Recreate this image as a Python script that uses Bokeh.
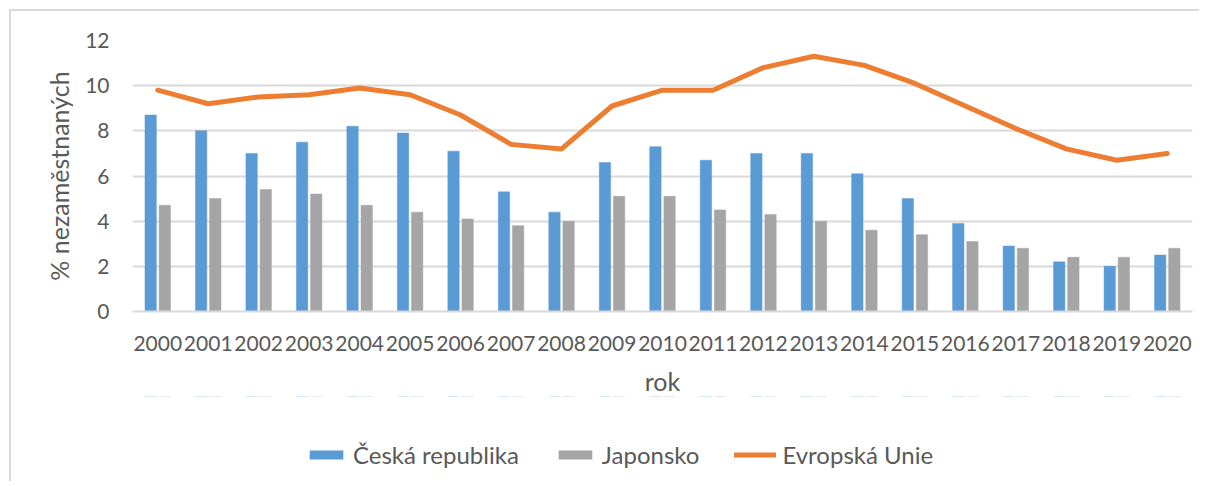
from bokeh.plotting import figure
from bokeh.layouts import column
from bokeh.models import ColumnDataSource, Range1d, FactorRange, Legend, LegendItem, FixedTicker
from bokeh.transform import dodge
from bokeh.embed import file_html
from bokeh.resources import INLINE

years = [str(y) for y in range(2000, 2021)]
cz = [8.7, 8.0, 7.0, 7.5, 8.2, 7.9, 7.1, 5.3, 4.4, 6.6, 7.3, 6.7, 7.0, 7.0, 6.1, 5.0, 3.9, 2.9, 2.2, 2.0, 2.5]
jp = [4.7, 5.0, 5.4, 5.2, 4.7, 4.4, 4.1, 3.8, 4.0, 5.1, 5.1, 4.5, 4.3, 4.0, 3.6, 3.4, 3.1, 2.8, 2.4, 2.4, 2.8]
eu = [9.8, 9.2, 9.5, 9.6, 9.9, 9.6, 8.7, 7.4, 7.2, 9.1, 9.8, 9.8, 10.8, 11.3, 10.9, 10.1, 9.1, 8.1, 7.2, 6.7, 7.0]
series_names = ["Česká republika", "Japonsko", "Evropská Unie"]

y_ticks = [0, 2, 4, 6, 8, 10, 12]

FONT = "Lato"
TXT = "#595959"
GRID = "#D9D9D9"
C_CZ, C_JP, C_EU = "#5B9BD5", "#A5A5A5", "#ED7D31"

src = ColumnDataSource(dict(year=years, cz=cz, jp=jp, eu=eu))


def draw_series(fig, bar_outline=True):
    lc1 = C_CZ if bar_outline else None
    lc2 = C_JP if bar_outline else None
    r1 = fig.vbar(x=dodge("year", -0.14, range=fig.x_range), top="cz", width=0.225, source=src,
                  fill_color=C_CZ, line_color=lc1, line_width=0.5)
    r2 = fig.vbar(x=dodge("year", 0.14, range=fig.x_range), top="jp", width=0.225, source=src,
                  fill_color=C_JP, line_color=lc2, line_width=0.5)
    r3 = fig.line(x="year", y="eu", source=src, line_color=C_EU, line_width=5,
                  line_cap="round", line_join="round")
    return r1, r2, r3


p = figure(x_range=FactorRange(*years), y_range=Range1d(0, 12),
           width=1190, height=387, output_backend="svg", toolbar_location=None,
           min_border_left=121, min_border_right=9, min_border_top=29, min_border_bottom=60)
p.x_range.range_padding = 0
p.outline_line_color = None
draw_series(p)

p.yaxis.ticker = FixedTicker(ticks=y_ticks)
p.ygrid.grid_line_color = GRID
p.ygrid.grid_line_width = 2
p.xgrid.grid_line_color = None

for ax in (p.xaxis[0], p.yaxis[0]):
    ax.major_tick_line_color = None
    ax.minor_tick_line_color = None
    ax.major_tick_out = 0
    ax.major_tick_in = 0
    ax.minor_tick_out = 0
    ax.major_label_text_font = FONT
    ax.major_label_text_font_size = "21px"
    ax.major_label_text_color = TXT
    ax.axis_label_text_font = FONT
    ax.axis_label_text_font_size = "25px"
    ax.axis_label_text_color = TXT
    ax.axis_label_text_font_style = "normal"

p.yaxis.axis_line_color = None
p.xaxis.axis_line_color = GRID
p.xaxis.axis_line_width = 2
p.yaxis.axis_label = "% nezaměstnaných"
p.xaxis.axis_label = "rok"
p.yaxis.major_label_standoff = 23
p.yaxis.axis_label_standoff = 8
p.xaxis.major_label_standoff = 24
p.xaxis.axis_label_standoff = 12
p.styles = {"border-top": "2px solid #D9D9D9", "border-left": "2px solid #D9D9D9",
            "margin-top": "9px", "margin-left": "9px"}

# legend strip (same series drawn out of view, only the legend is visible)
q = figure(width=1190, height=85, x_range=FactorRange(*years), y_range=Range1d(-100, -99),
           output_backend="svg", toolbar_location=None, x_axis_location=None,
           y_axis_location=None, min_border=0)
q.outline_line_color = None
q.grid.visible = False
l_cz, l_jp, l_eu = draw_series(q, bar_outline=False)
q.styles = {"border-left": "2px solid #D9D9D9", "margin-left": "9px"}

legend = Legend(items=[LegendItem(label=series_names[0], renderers=[l_cz]),
                       LegendItem(label=series_names[1], renderers=[l_jp]),
                       LegendItem(label=series_names[2], renderers=[l_eu])],
                orientation="horizontal", location=(173, 12),
                glyph_width=42, glyph_height=11, label_standoff=6, spacing=35,
                padding=0, margin=0, border_line_color=None, background_fill_alpha=0,
                label_text_font=FONT, label_text_font_size="24px", label_text_color=TXT)
q.add_layout(legend, "center")

layout = column(p, q, spacing=0)

open("out.html", "w").write(file_html(layout, INLINE))
